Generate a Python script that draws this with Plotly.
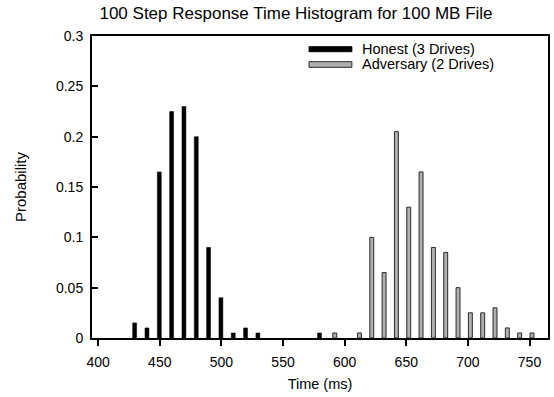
import plotly.graph_objects as go

# ---- data ----
honest_time = [430, 440, 450, 460, 470, 480, 490, 500, 510, 520, 530, 580]
honest_prob = [0.015, 0.01, 0.165, 0.225, 0.23, 0.2, 0.09, 0.04, 0.005, 0.01, 0.005, 0.005]

adv_time = [590, 610, 620, 630, 640, 650, 660, 670, 680, 690, 700, 710, 720, 730, 740, 750]
adv_prob = [0.005, 0.005, 0.1, 0.065, 0.205, 0.13, 0.165, 0.09, 0.085, 0.05,
            0.025, 0.025, 0.03, 0.01, 0.005, 0.005]

x_ticks = [400, 450, 500, 550, 600, 650, 700, 750]
y_ticks = [0, 0.05, 0.1, 0.15, 0.2, 0.25, 0.3]

series_names = ["Honest (3 Drives)", "Adversary (2 Drives)"]
title_text = "100 Step Response Time Histogram for 100 MB File"

# ---- layout geometry ----
W, H = 554, 397
L, R, T, B = 92, 4, 36, 59
PW, PH = W - L - R, H - T - B
FONT = "Liberation Sans, Arial, Helvetica, sans-serif"
BAR_W = 3.2

def px_x(p):
    return (p - L) / PW

def px_y(p):
    return (H - B - p) / PH

fig = go.Figure()
fig.add_trace(go.Bar(
    x=honest_time, y=honest_prob, name=series_names[0],
    width=BAR_W, offset=-2.0,
    marker=dict(color="#000000", line=dict(color="#000000", width=0.5)),
    showlegend=False,
))
fig.add_trace(go.Bar(
    x=adv_time, y=adv_prob, name=series_names[1],
    width=BAR_W, offset=0.4,
    marker=dict(color="#b0b0b0", line=dict(color="#2a2a2a", width=1)),
    showlegend=False,
))

# custom legend (wide flat swatches like the reference)
shapes = [
    dict(type="rect", xref="paper", yref="paper",
         x0=px_x(310), x1=px_x(353), y0=px_y(51.7), y1=px_y(46.7),
         fillcolor="#000000", line=dict(color="#000000", width=1)),
    dict(type="rect", xref="paper", yref="paper",
         x0=px_x(310), x1=px_x(353), y0=px_y(67.3), y1=px_y(61.7),
         fillcolor="#b0b0b0", line=dict(color="#2a2a2a", width=1)),
]
annotations = [
    dict(xref="paper", yref="paper", x=px_x(361), y=px_y(48.5),
         xanchor="left", yanchor="middle", showarrow=False,
         text=series_names[0], font=dict(family=FONT, size=14.5, color="#000")),
    dict(xref="paper", yref="paper", x=px_x(361), y=px_y(64),
         xanchor="left", yanchor="middle", showarrow=False,
         text=series_names[1], font=dict(family=FONT, size=14.5, color="#000")),
]

fig.update_layout(
    width=W, height=H,
    margin=dict(l=L, r=R, t=T, b=B, pad=0),
    paper_bgcolor="white", plot_bgcolor="white",
    barmode="overlay",
    font=dict(family=FONT, size=14, color="#000"),
    title=dict(text=title_text, x=296 / W, xanchor="center",
               xref="container", yref="container",
               y=1 - 13 / H, yanchor="middle",
               font=dict(family=FONT, size=17, color="#000")),
    shapes=shapes,
    annotations=annotations,
    showlegend=False,
)
fig.update_xaxes(
    range=[395, 765], tickmode="array", tickvals=x_ticks,
    ticks="outside", ticklen=6, tickwidth=2, tickcolor="#000",
    showline=True, linewidth=2, linecolor="#000", mirror=True,
    showgrid=False, zeroline=False,
    tickfont=dict(family=FONT, size=14),
    ticklabelstandoff=4,
    title=dict(text="Time (ms)", font=dict(family=FONT, size=14.5), standoff=10),
)
fig.update_yaxes(
    range=[0, 0.3], tickmode="array", tickvals=y_ticks,
    ticktext=["0", "0.05", "0.1", "0.15", "0.2", "0.25", "0.3"],
    ticks="inside", ticklen=6, tickwidth=2, tickcolor="#000",
    showline=True, linewidth=2, linecolor="#000", mirror=True,
    showgrid=False, zeroline=False,
    tickfont=dict(family=FONT, size=14),
    ticklabelstandoff=4,
    title=dict(text="Probability", font=dict(family=FONT, size=15), standoff=26),
)

fig.write_html("out.html")
